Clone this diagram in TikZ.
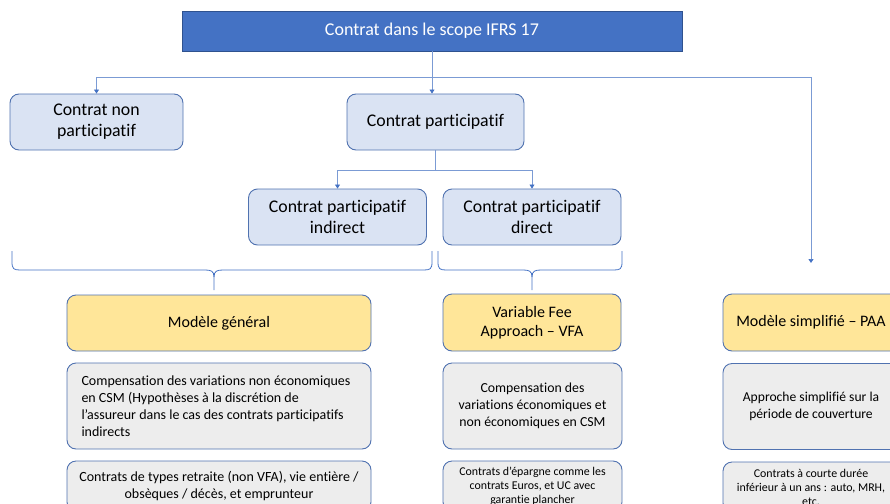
\documentclass[tikz,border=0pt]{standalone}
\usepackage{fontspec}
\setmainfont[Ligatures=NoCommon]{Carlito}
\usetikzlibrary{arrows.meta}
\definecolor{topfill}{HTML}{4472C4}
\definecolor{topdraw}{HTML}{2F528F}
\definecolor{bluefill}{HTML}{DAE3F3}
\definecolor{yellowfill}{HTML}{FFE699}
\definecolor{grayfill}{HTML}{EDEDED}
\definecolor{edge}{HTML}{5072B0}
\definecolor{link}{HTML}{7B9BD4}
\definecolor{tip}{HTML}{4472C4}
\begin{document}
\begin{tikzpicture}[x=1pt,y=-1pt,
  topbox/.style={draw=topdraw, fill=topfill, line width=0.8pt, inner sep=0pt,
    text=white, font=\fontsize{18}{21}\selectfont},
  rbox/.style={draw=edge, line width=0.9pt, rounded corners=9pt, inner sep=0pt, align=center},
  bluebox/.style={rbox, fill=bluefill, font=\fontsize{17.8}{21}\selectfont},
  yellowbox/.style={rbox, fill=yellowfill, font=\fontsize{16}{19}\selectfont},
  graybox/.style={rbox, fill=grayfill},
  conn/.style={draw=link, line width=0.7pt, -{Triangle[width=5pt,length=4pt,color=tip]}},
  bracestyle/.style={draw=tip, line width=0.8pt},
]
\useasboundingbox (0,0) rectangle (890,503);
\clip (0,0) rectangle (890,503);

% top level
\node[topbox, minimum width=500pt, minimum height=40pt] (top) at (432,31) {\raisebox{-1.5pt}{Contrat dans le scope IFRS 17}};

% contract categories
\node[bluebox, minimum width=173pt, minimum height=56pt] (cnp) at (96.5,122) {Contrat non\\participatif};
\node[bluebox, minimum width=177pt, minimum height=56pt] (cp) at (435.5,122) {\raisebox{-2pt}{Contrat participatif}};
\node[bluebox, minimum width=178pt, minimum height=56pt] (cpi) at (337.5,217) {Contrat participatif\\indirect};
\node[bluebox, minimum width=178pt, minimum height=56pt] (cpd) at (532,217) {Contrat participatif\\direct};

% measurement models
\node[yellowbox, minimum width=304pt, minimum height=56pt] (mg) at (219,323) {Modèle général};
\node[yellowbox, minimum width=178pt, minimum height=57pt] (vfa) at (532,322.5) {Variable Fee\\Approach – VFA};
\node[yellowbox, minimum width=176pt, minimum height=57pt] (paa) at (811,322.5) {Modèle simplifié – PAA};

% descriptions
\node[graybox, minimum width=304pt, minimum height=86pt, align=left,
  font=\fontsize{14}{17}\selectfont] (g1) at (219,406)
  {\parbox{275pt}{\raggedright Compensation des variations non économiques\\en CSM (Hypothèses à la discrétion de\\l’assureur dans le cas des contrats participatifs\\indirects}};
\node[graybox, minimum width=179pt, minimum height=86pt,
  font=\fontsize{13.8}{17}\selectfont] (g2) at (532.5,406)
  {Compensation des\\variations économiques et\\non économiques en CSM};
\node[graybox, minimum width=176pt, minimum height=86pt,
  font=\fontsize{13.6}{17}\selectfont] (g3) at (811,406.5)
  {Approche simplifié sur la\\période de couverture};

% examples
\node[graybox, minimum width=304pt, minimum height=50pt,
  font=\fontsize{14}{17}\selectfont] (h1) at (219,486)
  {Contrats de types retraite (non VFA), vie entière /\\obsèques / décès, et emprunteur};
\node[graybox, minimum width=179pt, minimum height=50pt,
  font=\fontsize{11.9}{14}\selectfont] (h2) at (532.5,486)
  {Contrats d’épargne comme les\\contrats Euros, et UC avec\\garantie plancher};
\node[graybox, minimum width=176pt, minimum height=50pt,
  font=\fontsize{11.9}{14}\selectfont] (h3) at (811,487)
  {Contrats à courte durée\\inférieur à un ans : auto, MRH,\\etc.};

% connectors
\coordinate (split) at (432,77);
\coordinate (paaend) at (811,263);
\coordinate (split2) at (435,170);
\draw[conn] (top.south) -- (top.south |- cp.north);
\draw[conn] (split) -| (cnp.north);
\draw[conn] (split) -| (paaend);
\draw[draw=link, line width=0.7pt] (cp.south -| split2) -- (split2);
\draw[conn] (split2) -| (cpi.north);
\draw[conn] (split2) -| (cpd.north);

% braces
\draw[bracestyle] (12,251) -- (12,262) .. controls (12,269) and (14,270) .. (20,270)
  -- (205,270) .. controls (211,270) and (214,271) .. (214,277) -- (214,290);
\draw[bracestyle] (432,251) -- (432,262) .. controls (432,269) and (430,270) .. (424,270)
  -- (223,270) .. controls (217,270) and (214,271) .. (214,277);
\draw[bracestyle] (438,251) -- (438,262) .. controls (438,269) and (440,270) .. (446,270)
  -- (523,270) .. controls (529,270) and (532,271) .. (532,277) -- (532,290);
\draw[bracestyle] (622,251) -- (622,262) .. controls (622,269) and (620,270) .. (614,270)
  -- (541,270) .. controls (535,270) and (532,271) .. (532,277);
\end{tikzpicture}
\end{document}
